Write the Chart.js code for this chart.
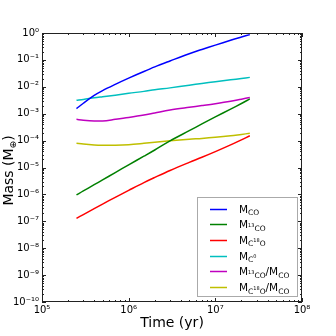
<!DOCTYPE html>
<html><head><meta charset="utf-8">
<script src="https://cdn.jsdelivr.net/npm/chart.js@4.4.1/dist/chart.umd.min.js"></script>
<style>html,body{margin:0;padding:0;background:#fff;}canvas{display:block;}</style>
</head><body>
<canvas id="c" width="336" height="336"></canvas>
<script>
// Time (yr)
const times = [2.5e5, 3e5, 4e5, 5e5, 7e5, 1e6, 1.5e6, 2e6, 3e6, 5e6, 7e6, 1e7, 1.5e7, 2e7, 2.5e7];
// Masses (Earth masses)
const mCO = [1.55e-3, 2.45e-3, 4.79e-3, 7.24e-3, 1.23e-2, 2.09e-2, 3.72e-2, 5.50e-2, 9.12e-2, 0.170, 0.245, 0.355, 0.537, 0.708, 0.871];
const m13CO = [9.55e-7, 1.35e-6, 2.29e-6, 3.47e-6, 6.46e-6, 1.26e-5, 2.63e-5, 4.47e-5, 9.77e-5, 2.34e-4, 4.17e-4, 7.59e-4, 1.48e-3, 2.40e-3, 3.55e-3];
const mC18O = [1.29e-7, 1.78e-7, 2.95e-7, 4.37e-7, 7.76e-7, 1.41e-6, 2.75e-6, 4.27e-6, 7.76e-6, 1.55e-5, 2.40e-5, 3.89e-5, 6.92e-5, 1.07e-4, 1.51e-4];
const mC0 = [3.16e-3, 3.39e-3, 3.89e-3, 4.27e-3, 4.90e-3, 5.75e-3, 6.76e-3, 7.76e-3, 9.12e-3, 1.15e-2, 1.32e-2, 1.55e-2, 1.82e-2, 2.04e-2, 2.24e-2];
const ratio13 = [6.17e-4, 5.75e-4, 5.37e-4, 5.37e-4, 6.17e-4, 7.24e-4, 8.91e-4, 1.07e-3, 1.38e-3, 1.74e-3, 2.00e-3, 2.34e-3, 2.88e-3, 3.47e-3, 3.98e-3];
const ratio18 = [7.94e-5, 7.41e-5, 6.92e-5, 6.76e-5, 6.76e-5, 7.08e-5, 7.94e-5, 8.71e-5, 9.77e-5, 1.12e-4, 1.20e-4, 1.32e-4, 1.51e-4, 1.70e-4, 1.86e-4];

const seriesNames = ['M_CO', 'M_13CO', 'M_C18O', 'M_C0', 'M_13CO/M_CO', 'M_C18O/M_CO'];
const seriesValues = [mCO, m13CO, mC18O, mC0, ratio13, ratio18];
const seriesColors = ['#0000ff', '#008000', '#ff0000', '#00bfbf', '#bf00bf', '#bfbf00'];

const xTickValues = [1e5, 1e6, 1e7, 1e8];
const yTickValues = [1e-10, 1e-9, 1e-8, 1e-7, 1e-6, 1e-5, 1e-4, 1e-3, 1e-2, 1e-1, 1e0];
const xTitle = 'Time (yr)';
// y title rich pieces
const yTitleRich = [['Mass (M','n'], ['\u2295','s'], [')','n']];

// legend rich-text pieces: n=normal, s=subscript, t=tiny superscript inside subscript
const legendRich = [
  [['M','n'],['CO','s']],
  [['M','n'],['13','t'],['CO','s']],
  [['M','n'],['C','s'],['18','t'],['O','s']],
  [['M','n'],['C','s'],['0','t']],
  [['M','n'],['13','t'],['CO','s'],['/M','n'],['CO','s']],
  [['M','n'],['C','s'],['18','t'],['O','s'],['/M','n'],['CO','s']]
];

const SUP = {'-':'\u207B','0':'\u2070','1':'\u00B9','2':'\u00B2','3':'\u00B3','4':'\u2074','5':'\u2075','6':'\u2076','7':'\u2077','8':'\u2078','9':'\u2079'};
function powLabel(v){
  const e = Math.round(Math.log10(v));
  return '10' + String(e).split('').map(c => SUP[c]).join('');
}

const FONT = 'DejaVu Sans';

function drawRich(ctx, pieces, x, base, sizes){
  let tx = x;
  pieces.forEach(([t, k]) => {
    const s = sizes[k];
    ctx.font = s.size + 'px "' + FONT + '"';
    ctx.fillText(t, tx, base + s.dy);
    tx += ctx.measureText(t).width;
  });
  return tx - x;
}
function richWidth(ctx, pieces, sizes){
  let w = 0;
  pieces.forEach(([t, k]) => { ctx.font = sizes[k].size + 'px "' + FONT + '"'; w += ctx.measureText(t).width; });
  return w;
}

const tickPlugin = {
  id: 'inTicks',
  afterDatasetsDraw(chart){
    const {ctx, chartArea: a, scales: {x, y}} = chart;
    ctx.save();
    ctx.strokeStyle = '#222';
    ctx.lineWidth = 1;
    ctx.beginPath();
    for (let e = 5; e <= 8; e++) {
      for (let m = 1; m <= 9; m++) {
        if (e === 8 && m > 1) break;
        const v = m * Math.pow(10, e);
        const px = Math.round(x.getPixelForValue(v)) + 0.5;
        const len = m === 1 ? 4 : 2;
        ctx.moveTo(px, a.bottom); ctx.lineTo(px, a.bottom - len);
        ctx.moveTo(px, a.top); ctx.lineTo(px, a.top + len);
      }
    }
    for (let e = -10; e <= 0; e++) {
      for (let m = 1; m <= 9; m++) {
        if (e === 0 && m > 1) break;
        const v = m * Math.pow(10, e);
        const py = Math.round(y.getPixelForValue(v)) + 0.5;
        const len = m === 1 ? 4 : 2;
        ctx.moveTo(a.left, py); ctx.lineTo(a.left + len, py);
        ctx.moveTo(a.right, py); ctx.lineTo(a.right - len, py);
      }
    }
    ctx.stroke();
    ctx.strokeRect(Math.round(a.left) + 0.5, Math.round(a.top) + 0.5, Math.round(a.right - a.left) - 1, Math.round(a.bottom - a.top) - 1);
    ctx.restore();
  },
  afterDraw(chart){
    const ctx = chart.ctx;
    const a = chart.chartArea;
    // y axis title with subscript
    ctx.save();
    ctx.fillStyle = '#000';
    ctx.textBaseline = 'alphabetic';
    ctx.textAlign = 'left';
    const tSizes = {n: {size: 14, dy: 0}, s: {size: 9, dy: 3}};
    const tw = richWidth(ctx, yTitleRich, tSizes);
    const cy = (a.top + a.bottom) / 2 + 3;
    ctx.translate(13, cy);
    ctx.rotate(-Math.PI / 2);
    drawRich(ctx, yTitleRich, -tw / 2, 0, tSizes);
    ctx.restore();

    // legend
    const bx = 197, by = 197, bw = 100, bh = 99;
    ctx.save();
    ctx.fillStyle = '#fff';
    ctx.fillRect(bx, by, bw, bh);
    ctx.strokeStyle = '#aaa';
    ctx.lineWidth = 1;
    ctx.strokeRect(bx + 0.5, by + 0.5, bw, bh);
    const rowY0 = 208.5, rowStep = 15.7;
    const lSizes = {n: {size: 10.5, dy: 0}, s: {size: 7.5, dy: 2.5}, t: {size: 5, dy: -1.5}};
    chart.data.datasets.forEach((ds, i) => {
      const ry = rowY0 + i * rowStep;
      ctx.strokeStyle = ds.borderColor;
      ctx.lineWidth = 1.5;
      ctx.beginPath();
      ctx.moveTo(210, Math.round(ry) + 0.5);
      ctx.lineTo(227, Math.round(ry) + 0.5);
      ctx.stroke();
      ctx.fillStyle = '#000';
      ctx.textBaseline = 'alphabetic';
      ctx.textAlign = 'left';
      drawRich(ctx, legendRich[i], 239, ry + 4, lSizes);
    });
    ctx.restore();
  }
};

const datasets = seriesNames.map((name, i) => ({
  label: name,
  data: times.map((t, j) => ({x: t, y: seriesValues[i][j]})),
  borderColor: seriesColors[i],
  backgroundColor: seriesColors[i],
  borderWidth: 1.5,
  pointRadius: 0,
  fill: false,
  tension: 0.35
}));

new Chart(document.getElementById('c'), {
  type: 'line',
  data: {datasets},
  options: {
    responsive: false,
    animation: false,
    devicePixelRatio: 1,
    layout: {padding: {top: 33, right: 34, bottom: 0, left: 0}},
    plugins: {legend: {display: false}, tooltip: {enabled: false}},
    scales: {
      x: {
        type: 'logarithmic', min: 1e5, max: 1e8,
        afterBuildTicks: s => { s.ticks = xTickValues.map(v => ({value: v})); },
        afterFit: s => { s.height = 34; },
        ticks: {callback: v => powLabel(v), autoSkip: false, maxRotation: 0, minRotation: 0, padding: 2,
                color: '#000', font: {family: FONT, size: 10}},
        grid: {display: false, drawTicks: false},
        border: {display: false},
        title: {display: true, text: xTitle, color: '#000', font: {family: FONT, size: 14}, padding: {top: 0, bottom: 4}}
      },
      y: {
        type: 'logarithmic', min: 1e-10, max: 1e0,
        afterBuildTicks: s => { s.ticks = yTickValues.map(v => ({value: v})); },
        afterFit: s => { s.width = 42; },
        ticks: {callback: v => powLabel(v), autoSkip: false, padding: 3,
                color: '#000', font: {family: FONT, size: 10}},
        grid: {display: false, drawTicks: false},
        border: {display: false},
        title: {display: false}
      }
    }
  },
  plugins: [tickPlugin]
});
</script>
</body></html>
